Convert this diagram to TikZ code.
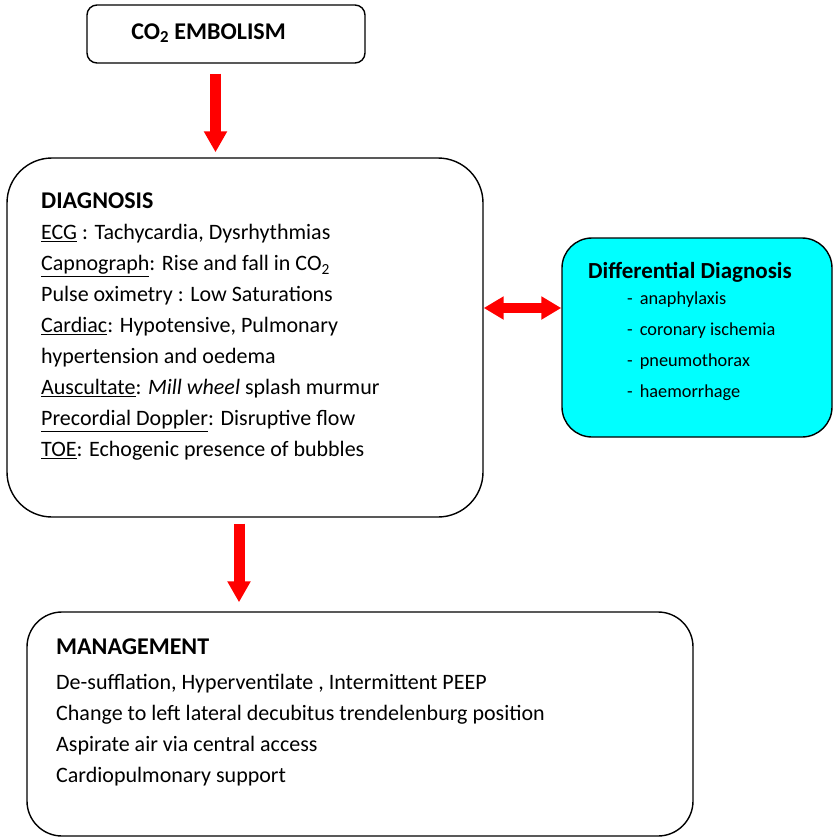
\documentclass[tikz,border=0pt]{standalone}
\usepackage{fontspec}
\setmainfont{Carlito}
\usetikzlibrary{arrows.meta,positioning,calc}
\definecolor{myRed}{HTML}{FF0000}
\definecolor{myCyan}{HTML}{00FFFF}
\newcommand{\boxtitle}[1]{\textbf{\fontsize{24}{31}\selectfont #1}}

\begin{document}
\begin{tikzpicture}[x=1pt,y=1pt]
	\useasboundingbox (0,0) rectangle (833,-838);
	\tikzset{BoxStyle/.style = {draw, line width=1.4pt, inner sep=0pt}}
	\tikzset{ArrowStyle/.style = {myRed, line width=11pt, -{Triangle[length=21pt,width=22pt]}}}
	\tikzset{TextStyle/.style = {anchor=north west, inner sep=0pt, align=left, font=\fontsize{22}{31}\selectfont}}
	
	% Kaesten
	\node[BoxStyle, rounded corners=10pt, minimum width=278pt, minimum height=58pt] (emb) at (226,-34) {};
	\node[BoxStyle, rounded corners=45pt, minimum width=476pt, minimum height=359pt] (diag) at (245,-337.5) {};
	\node[BoxStyle, rounded corners=30pt, minimum width=270pt, minimum height=199pt, fill=myCyan] (diff) at (697,-337.5) {};
	\node[BoxStyle, rounded corners=35pt, minimum width=666pt, minimum height=224pt] (mgmt) at (360,-724) {};
	
	% Texte
	\node[font=\bfseries\fontsize{24}{28}\selectfont] (embtxt) at (208.5,-33) {CO\textsubscript{2} EMBOLISM};
	\node[TextStyle] (diagtxt) at (41,-193) {\boxtitle{DIAGNOSIS}\\
		\underline{ECG} : Tachycardia, Dysrhythmias\\
		\underline{Capnograph}: Rise and fall in CO\textsubscript{2}\\
		Pulse oximetry : Low Saturations\\
		\underline{Cardiac}: Hypotensive, Pulmonary\\
		hypertension and oedema\\
		\underline{Auscultate}: \textit{Mill wheel} splash murmur\\
		\underline{Precordial Doppler}: Disruptive flow\\
		\underline{TOE}: Echogenic presence of bubbles};
	\node[font=\bfseries\fontsize{23}{28}\selectfont, anchor=base] (difftitle) at (690,-278) {Differential Diagnosis};
	\node[TextStyle, font=\fontsize{18.3}{31}\selectfont] (diffitems) at (627,-292) {-\hspace{7pt}anaphylaxis\\
		-\hspace{7pt}coronary ischemia\\
		-\hspace{7pt}pneumothorax\\
		-\hspace{7pt}haemorrhage};
	\node[TextStyle] (mgmttxt) at (56,-638.5) {\boxtitle{MANAGEMENT}\\[4pt]
		De-sufflation, Hyperventilate , Intermittent PEEP\\
		Change to left lateral decubitus trendelenburg position\\
		Aspirate air via central access\\
		Cardiopulmonary support};
	
	% Pfeile
	\draw[ArrowStyle] ($(emb.south)+(-10.5,-10)$) -- ($(emb.south |- diag.north)+(-10.5,5)$);
	\draw[ArrowStyle] ($(diag.south)+(-6,-6)$) -- ($(diag.south |- mgmt.north)+(-6,9)$);
	\draw[myRed, line width=10pt, {Triangle[length=20pt,width=22pt]}-{Triangle[length=20pt,width=22pt]}] ($(diag.east)+(0,29.5)$) -- ($(diag.east -| diff.west)+(0,29.5)$);
	
\end{tikzpicture}
\end{document}
